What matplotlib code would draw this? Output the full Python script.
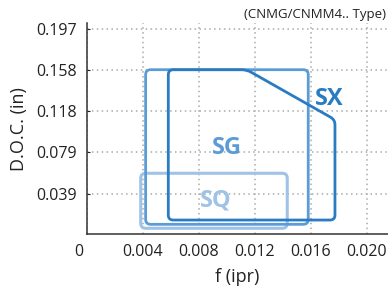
import matplotlib
matplotlib.use("Agg")
import matplotlib.pyplot as plt
from matplotlib.path import Path
from matplotlib.patches import PathPatch
from matplotlib.transforms import ScaledTranslation

plt.rcParams["font.family"] = ["Open Sans", "DejaVu Sans"]

# 加工范围（f: ipr, D.O.C.: in）
sq_f = [0.00386, 0.01433, 0.01433, 0.00386]
sq_doc = [0.0058, 0.0058, 0.0586, 0.0586]
sg_f = [0.00421, 0.01583, 0.01583, 0.00421]
sg_doc = [0.0096, 0.0096, 0.158, 0.158]
sx_f = [0.00583, 0.01774, 0.01774, 0.01143, 0.00583]
sx_doc = [0.0137, 0.0137, 0.110, 0.158, 0.158]

x_ticks = [0, 0.004, 0.008, 0.012, 0.016, 0.020]
x_labels = ["0", "0.004", "0.008", "0.012", "0.016", "0.020"]
y_ticks = [0.039, 0.079, 0.118, 0.158, 0.197]
y_labels = ["0.039", "0.079", "0.118", "0.158", "0.197"]

C_SX = "#2a7cc2"
C_SG = "#5b9bd6"
C_SQ = "#9fc3e7"


def rounded_path(xs, ys, rx, ry):
    """闭合多边形，每个角用二次贝塞尔圆角。"""
    n = len(xs)
    verts, codes = [], []
    for i in range(n):
        x0, y0 = xs[i - 1], ys[i - 1]
        x1, y1 = xs[i], ys[i]
        x2, y2 = xs[(i + 1) % n], ys[(i + 1) % n]

        def toward(ax_, ay_, bx, by):
            dx, dy = (bx - ax_) / rx, (by - ay_) / ry
            d = (dx * dx + dy * dy) ** 0.5
            t = min(1.0, 0.45 * d) / d
            return ax_ + (bx - ax_) * t, ay_ + (by - ay_) * t

        p_in = toward(x1, y1, x0, y0)
        p_out = toward(x1, y1, x2, y2)
        verts += [p_in, (x1, y1), p_out]
        codes += [Path.LINETO, Path.CURVE3, Path.CURVE3]
    codes[0] = Path.MOVETO
    verts.append(verts[0])
    codes.append(Path.CLOSEPOLY)
    return Path(verts, codes)


fig = plt.figure(figsize=(3.88, 2.9), dpi=100)
ax = fig.add_axes([0.2235, 0.192, 0.7765, 0.729])
ax.set_xlim(0, 0.02153)
ax.set_ylim(0, 0.2029)

# 圆角半径（数据单位，约 5px）
rx = 0.004 / 56 * 5
ry = 0.03937 / 41 * 5
for xs, ys, c, lw in [(sq_f, sq_doc, C_SQ, 2.2), (sg_f, sg_doc, C_SG, 2.0), (sx_f, sx_doc, C_SX, 2.0)]:
    ax.add_patch(PathPatch(rounded_path(xs, ys, rx, ry), fill=False, edgecolor=c, lw=lw, zorder=3))

ax.text(0.0173, 0.130, "SX", color=C_SX, fontsize=17, fontweight="bold", ha="center", va="center", zorder=4)
ax.text(0.0100, 0.0830, "SG", color=C_SG, fontsize=17, fontweight="bold", ha="center", va="center", zorder=4)
ax.text(0.0092, 0.0320, "SQ", color=C_SQ, fontsize=17, fontweight="bold", ha="center", va="center", zorder=4)

ax.set_xticks(x_ticks)
ax.set_xticklabels(x_labels)
ax.set_yticks(y_ticks)
ax.set_yticklabels(y_labels)
ax.tick_params(axis="both", length=2, direction="in", labelsize=11.5, colors="#222222", pad=7)
ax.tick_params(axis="x", length=0, pad=7)
ax.get_xticklabels()[0].set_transform(
    ax.get_xticklabels()[0].get_transform() + ScaledTranslation(-8 / 100, 0, fig.dpi_scale_trans))

ax.grid(True, color="#aaaaaa", linestyle=(0, (1, 2.2)), linewidth=1.1)
ax.set_axisbelow(True)
for side in ["top", "right"]:
    ax.spines[side].set_visible(False)
for side in ["left", "bottom"]:
    ax.spines[side].set_color("#333333")
    ax.spines[side].set_linewidth(1.1)

ax.set_xlabel("f (ipr)", fontsize=13, color="#222222", labelpad=6)
ax.set_ylabel("D.O.C. (in)", fontsize=13, color="#222222", labelpad=6)
fig.text(0.995, 0.950, "(CNMG/CNMM4.. Type)", fontsize=9.5, ha="right", va="center", color="#222222")

fig.savefig("out.png", dpi=100)
